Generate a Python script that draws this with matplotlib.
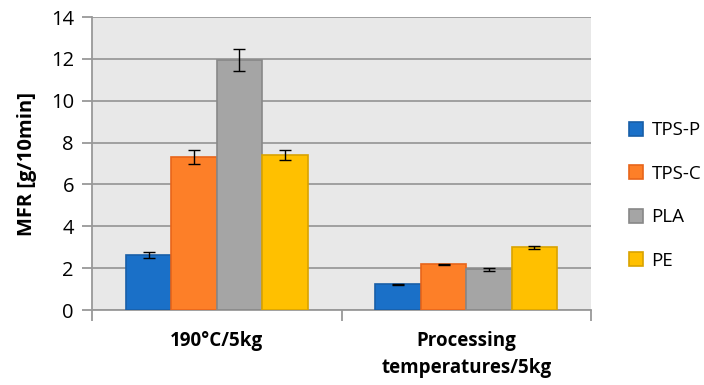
import matplotlib.pyplot as plt
import numpy as np

# data
categories = ["190°C/5kg", "Processing\ntemperatures/5kg"]
series = ["TPS-P", "TPS-C", "PLA", "PE"]
mfr = {
    "TPS-P": [2.63, 1.22],
    "TPS-C": [7.33, 2.19],
    "PLA": [11.95, 1.95],
    "PE": [7.40, 2.99],
}
err = {
    "TPS-P": [0.15, 0.04],
    "TPS-C": [0.33, 0.03],
    "PLA": [0.52, 0.08],
    "PE": [0.23, 0.06],
}
colors = ["#1a70c8", "#fd7f28", "#a5a5a5", "#ffc000"]
edges = ["#185fa8", "#e8651a", "#888888", "#d9a300"]

plt.rcParams['font.family'] = ['Open Sans', 'DejaVu Sans']

fig = plt.figure(figsize=(7.04, 3.85), dpi=100)
ax = fig.add_axes([0.1307, 0.1948, 0.7088, 0.761])
ax.set_facecolor("#e8e8e8")

x = np.arange(len(categories))
w = 0.182
for i, s in enumerate(series):
    pos = x + (i - 1.5) * w
    ax.bar(pos, mfr[s], w, color=colors[i], edgecolor=edges[i], linewidth=1.2,
           label=s, zorder=3)
    ax.errorbar(pos, mfr[s], yerr=err[s], fmt="none", ecolor="black",
                elinewidth=1, capsize=4.5, capthick=1, zorder=4)

ax.set_xlim(-0.5, 1.5)
ax.set_ylim(0, 14)
ax.set_yticks(range(0, 15, 2))
ax.yaxis.grid(True, color="#9a9a9a", linewidth=1.3, zorder=0)
ax.set_axisbelow(True)

ax.set_xticks(x)
ax.set_xticklabels(categories, fontsize=13.5, fontweight="bold", linespacing=1.45)
ax.set_xticks([-0.5, 0.5, 1.5], minor=True)
ax.tick_params(axis="x", which="major", length=0, pad=15)
ax.tick_params(axis="x", which="minor", length=8, color="#999999", width=1.3)
ax.tick_params(axis="y", length=7, color="#999999", width=1.3, labelsize=14.5, pad=6)

for sp in ["top", "right"]:
    ax.spines[sp].set_visible(False)
for sp in ["left", "bottom"]:
    ax.spines[sp].set_color("#999999")
    ax.spines[sp].set_linewidth(1.3)

ax.set_ylabel("MFR [g/10min]", fontsize=14.5, fontweight="bold", labelpad=10)

ax.legend(loc="upper left", bbox_to_anchor=(1.061, 0.67), frameon=False,
          fontsize=13.5, handlelength=0.75, handleheight=0.75, handletextpad=0.45,
          labelspacing=1.36, borderaxespad=0)

fig.savefig("out.png", dpi=100)
